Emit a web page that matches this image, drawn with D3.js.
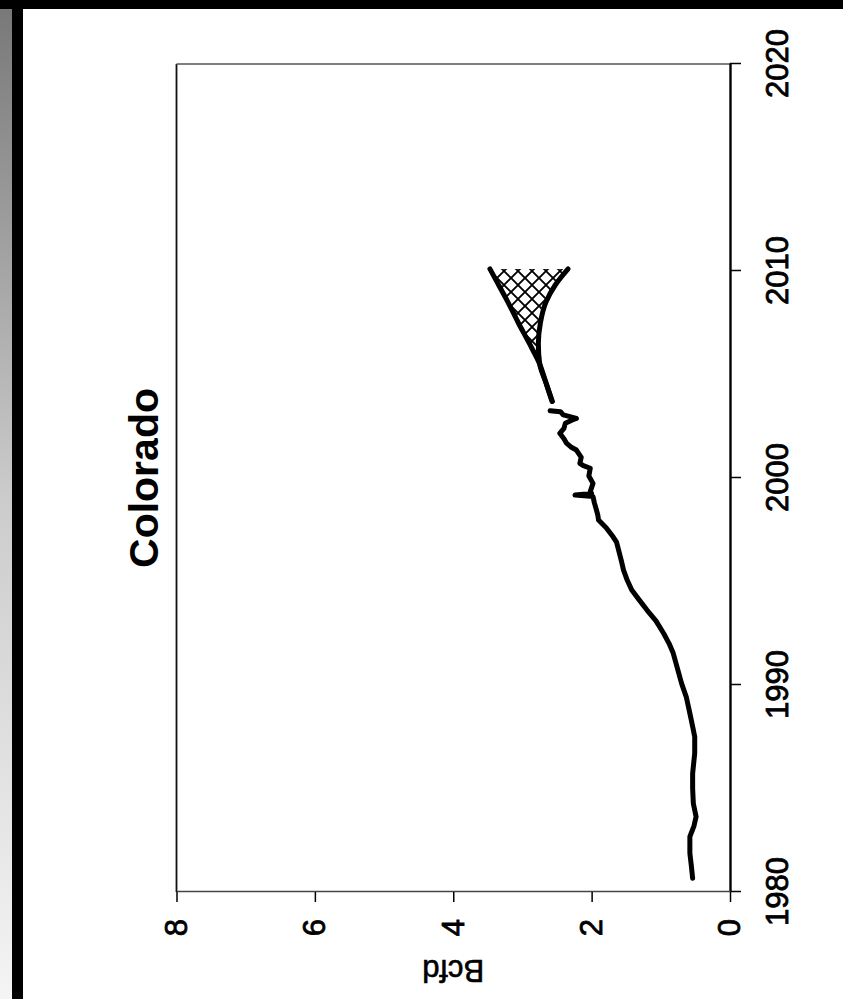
<!DOCTYPE html>
<html>
<head>
<meta charset="utf-8">
<script src="https://cdnjs.cloudflare.com/ajax/libs/d3/7.8.5/d3.min.js"></script>
<style>
body { margin:0; background:#fff; }
svg { display:block; font-family:"Liberation Sans", Arial, sans-serif; }
</style>
</head>
<body>
<div id="chart"></div>
<script>
// chart values
var chartTitle = "Colorado";
var unitLabel = "Bcfd";
var yearTicks = [1980, 1990, 2000, 2010, 2020];
var bcfdTicks = [0, 2, 4, 6, 8];

// historical production
var histYears = [1980.66, 1981.3, 1981.87, 1982.67, 1983.2, 1983.64, 1984.28, 1985.0, 1985.73, 1986.7, 1987.5,
    1988.0, 1988.63, 1989.4, 1990.08, 1990.8, 1991.53, 1992.0, 1992.5, 1993.1, 1993.62, 1994.1, 1994.59,
    1995.1, 1995.56, 1996.0, 1996.52, 1996.9, 1997.16, 1997.6, 1997.97, 1998.2, 1998.45, 1998.8, 1999.1,
    1999.18, 1999.25, 1999.34, 1999.74, 2000.1, 2000.47, 2000.6, 2000.71, 2001.0, 2001.35, 2001.5, 2001.67,
    2001.9, 2002.16, 2002.4, 2002.64, 2002.8, 2002.88, 2002.95, 2003.05, 2003.2, 2003.25];
var histBcfd = [0.54, 0.56, 0.58, 0.58, 0.52, 0.49, 0.53, 0.54, 0.54, 0.51, 0.51,
    0.54, 0.58, 0.63, 0.70, 0.76, 0.82, 0.88, 0.96, 1.07, 1.20, 1.31, 1.42,
    1.49, 1.54, 1.57, 1.61, 1.64, 1.69, 1.79, 1.90, 1.91, 1.93, 1.96, 1.98,
    2.24, 2.00, 2.02, 1.98, 2.04, 2.02, 2.12, 2.17, 2.15, 2.22, 2.30, 2.36,
    2.40, 2.46, 2.40, 2.38, 2.28, 2.22, 2.30, 2.41, 2.45, 2.60];

// projection range
var projYears = [2003.7, 2004.6, 2005.5, 2006.5, 2007.5, 2008.5, 2009.3, 2010.1];
var highCase = [2.57, 2.66, 2.75, 2.90, 3.06, 3.21, 3.34, 3.47];
var lowCase = [2.57, 2.66, 2.75, 2.77, 2.74, 2.66, 2.53, 2.34];

function draw() {
    var W = 843, H = 999;
    var svg = d3.select("#chart").append("svg")
        .attr("width", W)
        .attr("height", H);

    // scan edges
    var grad = svg.append("defs").append("linearGradient")
        .attr("id", "speckle")
        .attr("x1", 0).attr("y1", 0).attr("x2", 0).attr("y2", 1);
    grad.append("stop").attr("offset", "0").attr("stop-color", "#777");
    grad.append("stop").attr("offset", "0.5").attr("stop-color", "#ccc");
    grad.append("stop").attr("offset", "1").attr("stop-color", "#f4f4f4");
    svg.append("rect").attr("x", 0).attr("y", 0).attr("width", 12).attr("height", H).attr("fill", "url(#speckle)");
    svg.append("rect").attr("x", 12).attr("y", 0).attr("width", 11).attr("height", H).attr("fill", "#000");
    svg.append("rect").attr("x", 0).attr("y", 0).attr("width", W).attr("height", 9).attr("fill", "#000");

    // the page is turned on its side: draw a landscape chart, then rotate it
    var g = svg.append("g")
        .attr("transform", "translate(0," + H + ") rotate(-90)");

    var x = d3.scaleLinear().domain([1980, 2020]).range([107, 935]);
    var y = d3.scaleLinear().domain([0, 8]).range([730, 176.5]);

    var pat = svg.select("defs").append("pattern")
        .attr("id", "hatch")
        .attr("patternUnits", "userSpaceOnUse")
        .attr("width", 14).attr("height", 14);
    pat.append("path")
        .attr("d", "M0,0L14,14M14,0L0,14")
        .attr("stroke", "#000")
        .attr("stroke-width", 1.9);

    // frame (top and right of the plot)
    g.append("line")
        .attr("x1", x(1980)).attr("x2", x(2020))
        .attr("y1", y(8)).attr("y2", y(8))
        .attr("stroke", "#111").attr("stroke-width", 1.8);
    g.append("line")
        .attr("x1", x(2020)).attr("x2", x(2020))
        .attr("y1", y(8)).attr("y2", y(0))
        .attr("stroke", "#555").attr("stroke-width", 1.3);

    var xAxis = g.append("g")
        .attr("transform", "translate(0," + y(0) + ")")
        .call(d3.axisBottom(x).tickValues(yearTicks).tickFormat(d3.format("d"))
            .tickSize(11).tickSizeOuter(0).tickPadding(25));
    xAxis.select(".domain").attr("stroke-width", 2.4);
    xAxis.selectAll(".tick line").attr("stroke-width", 1.5);

    var yAxis = g.append("g")
        .attr("transform", "translate(" + x(1980) + ",0)")
        .call(d3.axisLeft(y).tickValues(bcfdTicks)
            .tickSize(10).tickSizeOuter(0).tickPadding(17));
    yAxis.select(".domain").attr("stroke", "#444").attr("stroke-width", 1.4);
    yAxis.selectAll(".tick line").attr("stroke-width", 1.5);

    // scanned digits look heavy, so give them a thin outline
    g.selectAll(".tick text")
        .attr("font-family", "'Liberation Sans', Arial, sans-serif")
        .attr("font-size", 31)
        .attr("fill", "#000")
        .attr("stroke", "#000")
        .attr("stroke-width", 0.8);

    // hatched range between the two cases
    var band = projYears.map(function(d, i) {
        return { year: d, lo: lowCase[i], hi: highCase[i] };
        });
    g.append("path")
        .datum(band)
        .attr("fill", "url(#hatch)")
        .attr("d", d3.area()
            .x(function(d) { return x(d.year); })
            .y0(function(d) { return y(d.lo); })
            .y1(function(d) { return y(d.hi); })
            .curve(d3.curveMonotoneX));

    var lineOf = function(vals) {
        return d3.line()
            .x(function(d) { return x(d); })
            .y(function(d, i) { return y(vals[i]); })
            .curve(d3.curveMonotoneX);
        }

    g.append("path")
        .datum(histYears)
        .attr("fill", "none").attr("stroke", "#000")
        .attr("stroke-width", 5).attr("stroke-linejoin", "round").attr("stroke-linecap", "round")
        .attr("d", d3.line()
            .x(function(d) { return x(d); })
            .y(function(d, i) { return y(histBcfd[i]); }));

    [highCase, lowCase].forEach(function(vals) {
        g.append("path")
            .datum(projYears)
            .attr("fill", "none").attr("stroke", "#000")
            .attr("stroke-width", 5).attr("stroke-linecap", "round")
            .attr("d", lineOf(vals));
        });

    g.append("text")
        .attr("x", (x(1980) + x(2020)) / 2)
        .attr("y", 158)
        .attr("text-anchor", "middle")
        .attr("font-size", 41)
        .attr("font-weight", "bold")
        .text(chartTitle);

    g.append("text")
        .attr("transform", "translate(29," + y(4) + ") rotate(-90)")
        .attr("text-anchor", "middle")
        .attr("dominant-baseline", "central")
        .attr("font-size", 31)
        .attr("stroke", "#000")
        .attr("stroke-width", 0.6)
        .text(unitLabel);
    }

document.body.onload = function() {
    draw();
    }
</script>
</body>
</html>
